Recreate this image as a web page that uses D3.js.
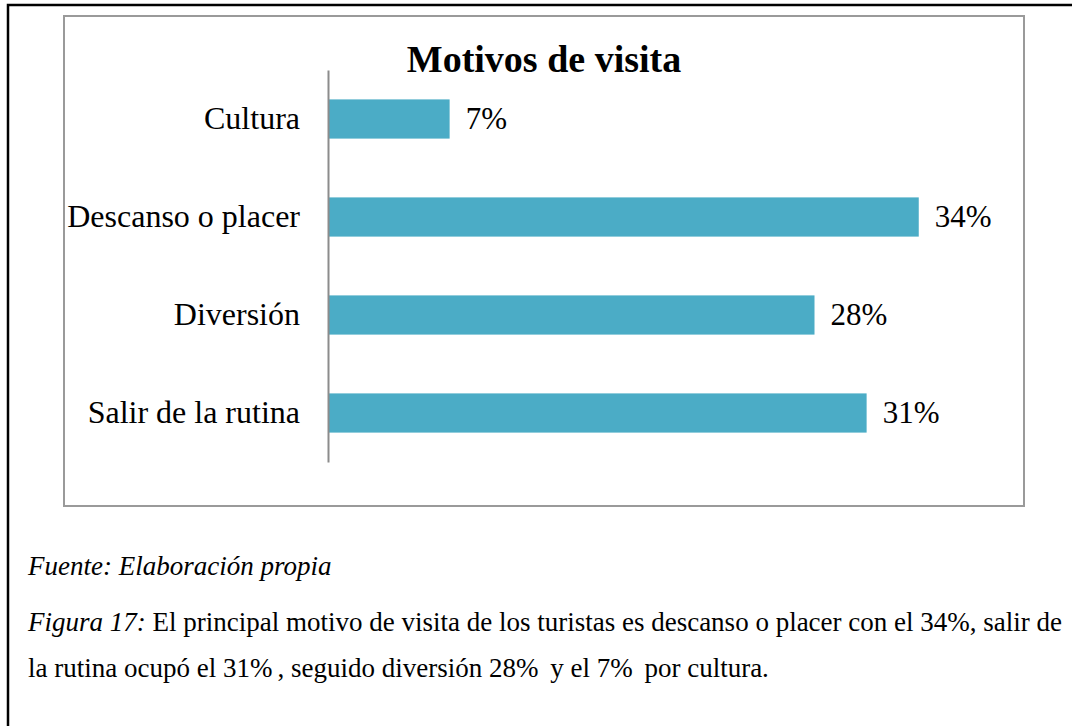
<!DOCTYPE html>
<html lang="es">

<head>
    <meta charset="UTF-8">
    <title>Motivos de visita</title>
    <script src="https://d3js.org/d3.v7.min.js"></script>
    <style>
        body {
            margin: 0;
            background: #fff;
            font-family: "Liberation Serif", "Times New Roman", serif;
        }

        svg {
            display: block;
        }

        .val {
            font-size: 31px;
            fill: #000;
        }

        .title {
            font-size: 38px;
            font-weight: bold;
        }

        .note {
            font-size: 27px;
        }
    </style>
</head>

<body>

    <svg width="1072" height="726"></svg>

    <script>
        const categories = ["Cultura", "Descanso o placer", "Diversión", "Salir de la rutina"];
        const values = [7, 34, 28, 31];
        const valueLabels = ["7%", "34%", "28%", "31%"];

        const svg = d3.select("svg");

        // page frame and chart box
        svg.append("rect")
            .attr("x", 8).attr("y", 5)
            .attr("width", 1100).attr("height", 800)
            .attr("fill", "none").attr("stroke", "#000").attr("stroke-width", 2.5);

        svg.append("rect")
            .attr("x", 64).attr("y", 16)
            .attr("width", 960).attr("height", 490)
            .attr("fill", "#fff").attr("stroke", "#9a9a9a").attr("stroke-width", 2);

        const x = d3.scaleLinear().domain([0, 40]).range([328, 1023]);
        const y = d3.scaleBand()
            .domain(categories)
            .range([70, 462])
            .paddingInner(0.6)
            .paddingOuter(0.3);

        svg.append("text")
            .attr("class", "title")
            .attr("x", 544).attr("y", 72)
            .attr("text-anchor", "middle")
            .text("Motivos de visita");

        svg.selectAll("rect.bar")
            .data(categories)
            .enter().append("rect")
            .attr("class", "bar")
            .attr("x", x(0))
            .attr("y", d => y(d))
            .attr("width", (d, i) => x(values[i]) - x(0))
            .attr("height", y.bandwidth())
            .attr("fill", "#4bacc6");

        // category axis, no ticks
        const yAxis = svg.append("g")
            .attr("transform", `translate(${x(0)},0)`)
            .call(d3.axisLeft(y).tickSize(0).tickPadding(28));
        yAxis.attr("font-family", null).attr("font-size", 32);
        yAxis.select(".domain").attr("stroke", "#8c8c8c").attr("stroke-width", 2);
        yAxis.selectAll("text").attr("fill", "#000");

        svg.selectAll("text.val")
            .data(categories)
            .enter().append("text")
            .attr("class", "val")
            .attr("x", (d, i) => x(values[i]) + 16)
            .attr("y", d => y(d) + y.bandwidth() / 2)
            .attr("dy", "0.33em")
            .text((d, i) => valueLabels[i]);

        // caption below chart
        const note = svg.append("g").attr("class", "note");
        note.append("text")
            .attr("x", 28).attr("y", 575)
            .attr("font-style", "italic")
            .text("Fuente: Elaboración propia");

        const line2 = note.append("text").attr("x", 28).attr("y", 631);
        line2.append("tspan").attr("font-style", "italic").text("Figura 17:");
        line2.append("tspan").text(" El principal motivo de visita de los turistas es descanso o placer con el 34%, salir de");

        // justify the second line to the right margin
        const natural = line2.node().getComputedTextLength();
        const gaps = line2.text().split(" ").length - 1;
        line2.attr("word-spacing", (1062 - 28 - natural) / gaps);

        // last line: slight extra room after each %
        const line3 = note.append("text").attr("x", 28).attr("y", 677);
        const parts = "la rutina ocupó el 31%, seguido diversión 28% y el 7% por cultura.".split("%");
        parts.forEach((part, i) => {
            line3.append("tspan")
                .attr("dx", i ? 5 : 0)
                .text(part + (i < parts.length - 1 ? "%" : ""));
        });
    </script>

</body>

</html>
